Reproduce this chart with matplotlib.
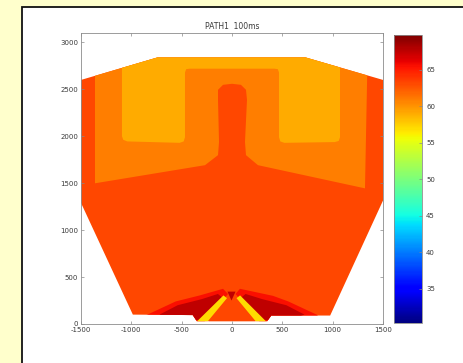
import numpy as np
import matplotlib
matplotlib.use("Agg")
import matplotlib.pyplot as plt
from matplotlib.patches import Rectangle, Polygon
from matplotlib.colors import Normalize
from matplotlib.cm import ScalarMappable

# ---- data ----
title = "PATH1  100ms"
vmin, vmax = 30.3, 69.8
cbar_ticks = [35, 40, 45, 50, 55, 60, 65]
x_ticks = [-1500, -1000, -500, 0, 500, 1000, 1500]
y_ticks = [0, 500, 1000, 1500, 2000, 2500, 3000]

# domain outline (level of the outer band)
domain_x = [-1500, -740, 730, 1500, 1500, 975, 390, 350, -350, -390, -985, -1500]
domain_y = [2600, 2840, 2840, 2600, 1315, 90, 90, 30, 30, 95, 100, 1290]
level_outer = 63.3

# orange band (with notch for the central column)
orange_x = [-1361, -1361, 1351, 1321, 258, 139, 129, 149, 139, 89, 0, -89, -139, -139, -129, -139, -268]
orange_y = [1499, 3100, 3100, 1445, 1692, 1799, 1938, 2388, 2495, 2548, 2559, 2548, 2495, 2388, 1938, 1799, 1692]
level_orange = 61.0

# yellow-orange band (top strip + two blocks)
yellow_x = [-1093, 1073, 1073, 1060, 1020, 520, 480, 467, 467, 455, 420, -420, -455, -467, -467, -480, -520, -1040, -1080, -1093]
yellow_y = [3100, 3100, 1990, 1950, 1938, 1930, 1945, 1990, 2680, 2715, 2720, 2720, 2715, 2680, 1990, 1945, 1930, 1945, 1962, 2000]
level_yellow = 59.0

# bottom features
red_left_x = [-850, -560, -318, -89, -40, -290, -850]
red_left_y = [95, 240, 305, 375, 320, 0, 0]
red_right_x = [850, 560, 407, 79, 35, 290, 850]
red_right_y = [95, 240, 300, 375, 320, 0, 0]
level_red = 65.5

dark_left_x = [-720, -540, -300, -140, -95, -320, -620]
dark_left_y = [100, 200, 265, 320, 280, 40, 60]
dark_right_x = [720, 540, 300, 135, 90, 320, 620]
dark_right_y = [100, 200, 265, 320, 280, 40, 60]
dark_apex_x = [-45, 35, -5]
dark_apex_y = [345, 345, 250]
level_dark = 67.6

vleft_x = [-365, -255, -50, -85]
vleft_y = [10, 10, 275, 305]
vright_x = [355, 250, 45, 80]
vright_y = [10, 10, 275, 305]
level_vyellow = 57.0

inner_v_x = [-245, -5, 245]
inner_v_y = [10, 315, 10]

# ---- figure ----
cmap = plt.get_cmap("jet")
norm = Normalize(vmin=vmin, vmax=vmax)
W, H = 464, 363
fig = plt.figure(figsize=(W / 100, H / 100), dpi=100, facecolor="#FFFFCC")

frame = Rectangle((22 / W, -0.1), 1.2, 1 - 7 / H + 0.1, transform=fig.transFigure,
                  facecolor="white", edgecolor="#111111", linewidth=1.3, zorder=-5)
fig.patches.append(frame)

ax = fig.add_axes([81 / W, 1 - 324 / H, 302 / W, 291 / H])
ax.set_facecolor("white")
ax.set_xlim(-1500, 1500)
ax.set_ylim(0, 3100)

dom = Polygon(np.column_stack([domain_x, domain_y]), closed=True,
              facecolor=cmap(norm(level_outer)), edgecolor="none", lw=0)
ax.add_patch(dom)


def region(xs, ys, level):
    p = Polygon(np.column_stack([xs, ys]), closed=True,
                facecolor=cmap(norm(level)), edgecolor="none", lw=0)
    ax.add_patch(p)
    p.set_clip_path(dom)
    return p


region(orange_x, orange_y, level_orange)
region(yellow_x, yellow_y, level_yellow)
region(red_left_x, red_left_y, level_red)
region(red_right_x, red_right_y, level_red)
region(dark_left_x, dark_left_y, level_dark)
region(dark_right_x, dark_right_y, level_dark)
region(vleft_x, vleft_y, level_vyellow)
region(vright_x, vright_y, level_vyellow)
region(inner_v_x, inner_v_y, level_outer)
region(dark_apex_x, dark_apex_y, level_dark)

txt_color = "#3a3a3a"
ax.set_xticks(x_ticks)
ax.set_yticks(y_ticks)
ax.set_xticklabels([str(v) for v in x_ticks])
ax.set_yticklabels([str(v) for v in y_ticks])
ax.tick_params(direction="in", length=2.5, width=0.5, labelsize=5, colors="#888888",
               labelcolor=txt_color, top=True, right=True, pad=2)
for s in ax.spines.values():
    s.set_color("#8c8c8c")
    s.set_linewidth(0.6)
ax.set_title(title, fontsize=5.5, color=txt_color, pad=3)

cax = fig.add_axes([394 / W, 1 - 323 / H, 28 / W, 288 / H])
sm = ScalarMappable(norm=norm, cmap=cmap)
cb = fig.colorbar(sm, cax=cax, ticks=cbar_ticks)
cb.outline.set_edgecolor("#8c8c8c")
cb.outline.set_linewidth(0.6)
cax.tick_params(direction="in", length=2, width=0.5, labelsize=5, colors="#888888",
                labelcolor=txt_color, pad=3)

fig.savefig("out.png", dpi=100, facecolor=fig.get_facecolor())
